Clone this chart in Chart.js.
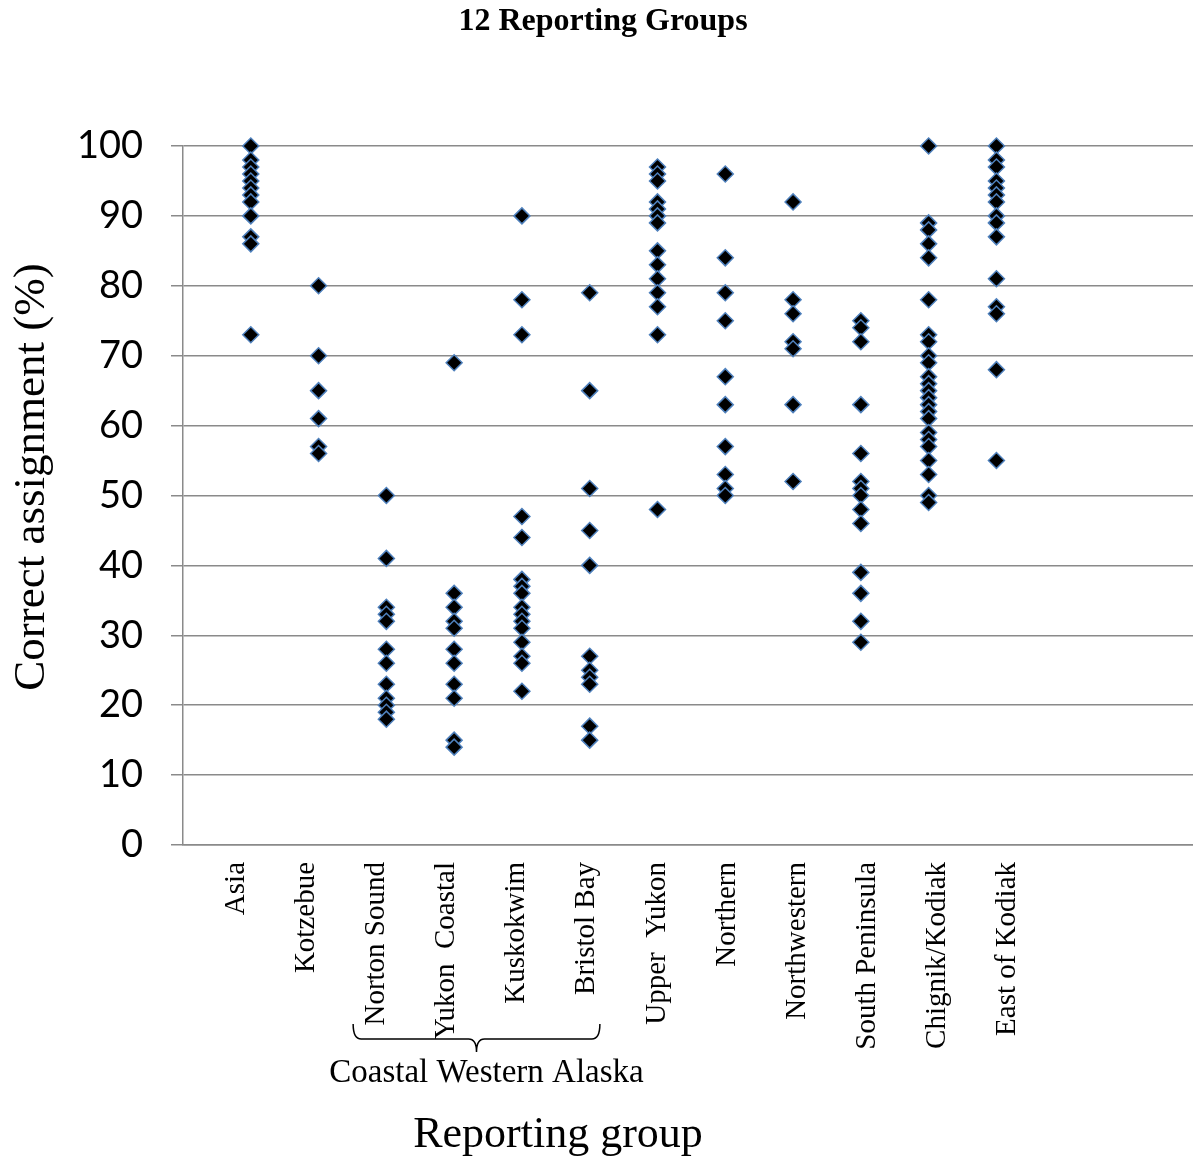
<!DOCTYPE html>
<html>
<head>
<meta charset="utf-8">
<title>12 Reporting Groups</title>
<script src="https://cdn.jsdelivr.net/npm/chart.js@4.4.1/dist/chart.umd.min.js"></script>
<style>
  html, body { margin: 0; padding: 0; background: #ffffff; overflow: hidden; }
  #wrap { width: 1193px; height: 1162px; position: relative; }
</style>
</head>
<body>
<div id="wrap"><canvas id="chart" width="1193" height="1162"></canvas></div>
<script>
// Reporting groups along the x axis (positions 1..12)
const groups = [
  'Asia', 'Kotzebue', 'Norton Sound', 'Yukon  Coastal', 'Kuskokwim', 'Bristol Bay',
  'Upper  Yukon', 'Northern', 'Northwestern', 'South Peninsula', 'Chignik/Kodiak', 'East of Kodiak'
];

// Correct assignment (%) for each population within a reporting group
const asia           = [100, 98, 97, 96, 95, 94, 93, 92, 90, 87, 86, 73];
const kotzebue       = [80, 70, 65, 61, 57, 56];
const nortonSound    = [50, 41, 34, 33, 32, 28, 26, 23, 21, 20, 19, 18];
const yukonCoastal   = [69, 36, 34, 32, 31, 28, 26, 23, 21, 15, 14];
const kuskokwim      = [90, 78, 73, 47, 44, 38, 37, 36, 34, 33, 32, 31, 29, 27, 26, 22];
const bristolBay     = [79, 65, 51, 45, 40, 27, 25, 24, 23, 17, 15];
const upperYukon     = [97, 96, 95, 92, 91, 90, 89, 85, 83, 81, 79, 77, 73, 48];
const northern       = [96, 84, 79, 75, 67, 63, 57, 53, 51, 50];
const northwestern   = [92, 78, 76, 72, 71, 63, 52];
const southPeninsula = [75, 74, 72, 63, 56, 52, 51, 50, 48, 46, 39, 36, 32, 29];
const chignikKodiak  = [100, 89, 88, 86, 84, 78, 73, 72, 70, 69, 67, 66, 65, 64, 63, 62, 61, 59, 58, 57, 55, 53, 50, 49];
const eastOfKodiak   = [100, 98, 97, 95, 94, 93, 92, 90, 89, 87, 81, 77, 76, 68, 55];

const groupValues = [
  asia, kotzebue, nortonSound, yukonCoastal, kuskokwim, bristolBay,
  upperYukon, northern, northwestern, southPeninsula, chignikKodiak, eastOfKodiak
];

// y-axis tick values
const yTicks = [0, 10, 20, 30, 40, 50, 60, 70, 80, 90, 100];

// Bracket grouping the coastal western Alaska groups (positions in group index, 1-based)
const bracketLabel = 'Coastal Western Alaska';
const bracketFrom = 3;   // Norton Sound
const bracketTo = 6;     // Bristol Bay

const points = [];
groupValues.forEach((vals, i) => {
  vals.forEach(v => points.push({ x: i + 1, y: v }));
});

const SERIF = '"Liberation Serif", "Times New Roman", serif';
const SANS = 'Lato, "Noto Sans", sans-serif';

const annotations = {
  id: 'annotations',
  afterDraw(chart) {
    const ctx = chart.ctx;
    const xs = chart.scales.x;
    ctx.save();

    // chart title
    ctx.fillStyle = '#000';
    ctx.font = 'bold 32px ' + SERIF;
    ctx.textAlign = 'center';
    ctx.textBaseline = 'middle';
    ctx.fillText('12 Reporting Groups', 603, 22);

    // y axis title
    ctx.save();
    ctx.translate(32, 477);
    ctx.rotate(-Math.PI / 2);
    ctx.font = '45px ' + SERIF;
    ctx.fillText('Correct assignment (%)', 0, 0);
    ctx.restore();

    // bracket under the coastal western Alaska labels
    const step = xs.getPixelForValue(1) - xs.getPixelForValue(0);
    const L = xs.getPixelForValue(bracketFrom) - step * 0.49;
    const R = xs.getPixelForValue(bracketTo) + step * 0.15;
    const M = (L + R) / 2;
    const top = 1024, mid = 1039, tip = 1052, c = 8;
    ctx.beginPath();
    ctx.moveTo(L, top);
    ctx.quadraticCurveTo(L, mid, L + c, mid);
    ctx.lineTo(M - c, mid);
    ctx.quadraticCurveTo(M, mid, M, tip);
    ctx.quadraticCurveTo(M, mid, M + c, mid);
    ctx.lineTo(R - c, mid);
    ctx.quadraticCurveTo(R, mid, R, top);
    ctx.strokeStyle = '#000';
    ctx.lineWidth = 1.5;
    ctx.stroke();

    ctx.font = '33px ' + SERIF;
    ctx.fillText(bracketLabel, M + 10, 1073);

    // x axis title
    ctx.font = '44px ' + SERIF;
    ctx.fillText('Reporting group', 558, 1135);
    ctx.restore();
  }
};

new Chart(document.getElementById('chart'), {
  type: 'scatter',
  data: {
    datasets: [{
      label: 'Correct assignment',
      data: points,
      xAxisID: 'x',
      yAxisID: 'y',
      clip: false,
      pointStyle: 'rectRot',
      pointRadius: 8,
      pointHoverRadius: 8,
      backgroundColor: '#000000',
      borderColor: '#4f81bd',
      borderWidth: 1.5
    }]
  },
  options: {
    responsive: false,
    animation: false,
    events: [],
    layout: { autoPadding: false, padding: { top: 146, right: 0, bottom: 0, left: 0 } },
    plugins: {
      legend: { display: false },
      title: { display: false },
      tooltip: { enabled: false }
    },
    scales: {
      // position scale for the markers
      x: {
        type: 'linear',
        display: false,
        min: 0,
        max: 14.9
      },
      // category label axis, spaced a little wider than the markers
      xLabels: {
        type: 'linear',
        position: 'bottom',
        min: 0,
        max: 14.4,
        afterFit(scale) {
          scale.height = 1162 - 845;
          scale.paddingLeft = 0;
          scale.paddingRight = 0;
        },
        afterBuildTicks(scale) {
          scale.ticks = groups.map((g, i) => ({ value: i + 1 }));
        },
        grid: { display: false },
        border: { display: true, color: '#8a8a8a', width: 1.5 },
        ticks: {
          autoSkip: false,
          minRotation: 90,
          maxRotation: 90,
          padding: 9,
          labelOffset: -17,
          color: '#000',
          font: { family: SERIF, size: 29 },
          callback(value) {
            const i = Math.round(value) - 1;
            return groups[i] !== undefined ? groups[i] : '';
          }
        }
      },
      y: {
        min: 0,
        max: 100,
        afterFit(scale) {
          scale.width = 183;
          scale.paddingTop = 0;
          scale.paddingBottom = 0;
        },
        afterBuildTicks(scale) {
          scale.ticks = yTicks.map(v => ({ value: v }));
        },
        grid: {
          color: '#8a8a8a',
          lineWidth: 1.5,
          drawTicks: true,
          tickLength: 12,
          tickColor: '#8a8a8a'
        },
        border: { display: true, color: '#8a8a8a', width: 1.5 },
        ticks: {
          padding: 28,
          color: '#000',
          font: { family: SANS, size: 38 }
        }
      }
    }
  },
  plugins: [annotations]
});
</script>
</body>
</html>
